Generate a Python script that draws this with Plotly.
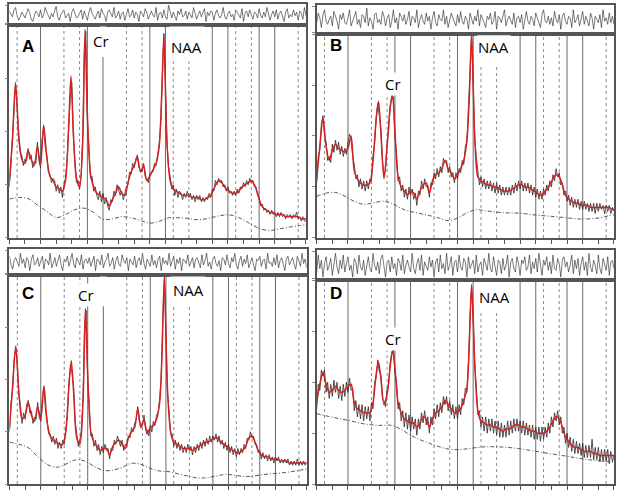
import numpy as np
import plotly.graph_objects as go

# chemical shift (ppm) of the fitted-curve points, shared by all four spectra
fit_ppm = [4.00, 3.96, 3.92, 3.88, 3.84, 3.80, 3.76, 3.72, 3.68, 3.64,
           3.60, 3.56, 3.52, 3.48, 3.44, 3.40, 3.36, 3.32, 3.28, 3.24,
           3.21, 3.18, 3.14, 3.10, 3.06, 3.03, 3.00, 2.96, 2.92, 2.88,
           2.84, 2.80, 2.76, 2.72, 2.68, 2.64, 2.60, 2.56, 2.52, 2.48,
           2.44, 2.40, 2.36, 2.32, 2.28, 2.24, 2.20, 2.16, 2.12, 2.08,
           2.05, 2.02, 1.98, 1.94, 1.90, 1.86, 1.82, 1.78, 1.74, 1.70,
           1.66, 1.62, 1.58, 1.54, 1.50, 1.46, 1.42, 1.38, 1.34, 1.30,
           1.26, 1.22, 1.18, 1.14, 1.10, 1.06, 1.02, 0.98, 0.94, 0.90,
           0.86, 0.82, 0.78, 0.74, 0.70, 0.66, 0.62, 0.58, 0.54, 0.50,
           0.46, 0.42, 0.38, 0.34, 0.30, 0.26, 0.22, 0.20]

# fitted spectra (red)
fit_a = [27, 46, 73, 49, 37, 35, 41, 37, 34, 43,
         34, 53, 38, 29, 27, 24, 23, 22, 27, 52,
         76, 50, 28, 24, 45, 98, 58, 30, 24, 21,
         20, 19, 18, 15, 18, 21, 24, 21, 20, 26,
         31, 34, 38, 31, 34, 27, 29, 32, 35, 43,
         65, 95, 44, 27, 23, 22, 21, 20, 20, 20,
         19, 19, 19, 18, 18, 19, 20, 23, 26, 27,
         25, 23, 22, 21, 21, 22, 24, 25, 26, 27,
         25, 21, 16, 14, 13, 12, 12, 11, 11, 11,
         10, 10, 10, 10, 10, 9, 9, 9]
fit_b = [29, 45, 59, 45, 38, 43, 46, 44, 43, 42,
         44, 50, 33, 29, 27, 26, 26, 27, 38, 58,
         67, 52, 29, 45, 64, 70, 52, 30, 25, 23,
         21, 23, 22, 19, 23, 26, 27, 22, 28, 31,
         32, 34, 38, 34, 32, 29, 31, 34, 38, 48,
         68, 100, 50, 30, 28, 27, 26, 26, 25, 25,
         24, 23, 23, 23, 24, 25, 26, 26, 25, 25,
         24, 23, 22, 21, 22, 24, 26, 29, 31, 30,
         26, 21, 19, 18, 17, 17, 16, 16, 16, 15,
         15, 15, 15, 15, 15, 15, 14, 14]
fit_c = [27, 47, 66, 44, 31, 33, 39, 33, 30, 37,
         31, 47, 30, 23, 21, 20, 19, 19, 25, 47,
         59, 44, 22, 19, 39, 84, 52, 25, 20, 18,
         16, 17, 17, 14, 18, 20, 21, 19, 17, 22,
         25, 27, 36, 27, 31, 24, 27, 28, 31, 39,
         62, 99, 45, 25, 20, 19, 18, 17, 17, 17,
         16, 17, 18, 19, 20, 20, 21, 22, 22, 20,
         19, 18, 17, 16, 15, 15, 16, 18, 22, 23,
         20, 16, 14, 13, 13, 12, 12, 12, 11, 11,
         11, 10, 10, 10, 10, 10, 10, 10]
fit_d = [40, 49, 55, 49, 45, 46, 48, 46, 45, 46,
         48, 49, 40, 37, 36, 35, 35, 35, 40, 54,
         60, 52, 39, 44, 58, 66, 57, 40, 35, 32,
         31, 30, 30, 28, 30, 33, 32, 28, 32, 35,
         36, 38, 41, 39, 37, 35, 35, 37, 41, 47,
         68, 98, 60, 36, 31, 30, 29, 29, 28, 28,
         27, 26, 27, 27, 28, 29, 29, 28, 28, 27,
         26, 26, 25, 25, 25, 26, 28, 31, 33, 32,
         28, 23, 21, 19, 18, 18, 17, 16, 16, 16,
         15, 15, 14, 14, 14, 14, 14, 14]

# measured spectra (black), 4.00 -> 0.20 ppm in 0.02 ppm steps
data_a = [24, 33, 47, 60, 72, 62, 46, 40, 39, 34,
          37, 36, 42, 37, 39, 33, 36, 35, 45, 36,
          33, 46, 52, 43, 39, 31, 30, 26, 28, 27,
          22, 25, 21, 24, 19, 25, 28, 36, 53, 66,
          73, 48, 36, 26, 27, 23, 29, 47, 86, 97,
          56, 43, 28, 29, 22, 24, 20, 18, 22, 17,
          21, 16, 19, 15, 13, 18, 17, 22, 20, 25,
          23, 20, 22, 18, 21, 24, 25, 31, 30, 35,
          33, 37, 39, 33, 32, 31, 35, 29, 28, 26,
          30, 31, 31, 35, 34, 39, 44, 54, 78, 96,
          72, 45, 33, 29, 23, 25, 20, 23, 19, 22,
          21, 18, 21, 19, 22, 19, 21, 18, 20, 17,
          20, 18, 20, 17, 19, 17, 19, 18, 21, 19,
          23, 22, 27, 25, 28, 26, 27, 24, 25, 22,
          24, 21, 22, 20, 22, 20, 23, 21, 24, 23,
          26, 24, 27, 25, 28, 26, 27, 24, 24, 20,
          19, 15, 16, 13, 14, 12, 13, 11, 13, 11,
          12, 10, 12, 10, 12, 10, 11, 9, 11, 10,
          11, 9, 11, 10, 12, 9, 10, 8, 10, 8,
          8]
data_b = [27, 40, 43, 56, 60, 50, 47, 38, 40, 37,
          46, 42, 48, 43, 47, 41, 45, 40, 44, 41,
          47, 51, 48, 40, 36, 29, 31, 25, 29, 24,
          28, 23, 28, 24, 29, 28, 40, 46, 59, 66,
          60, 54, 38, 31, 33, 47, 53, 65, 70, 69,
          50, 42, 28, 30, 23, 26, 20, 24, 19, 25,
          21, 24, 19, 22, 16, 23, 21, 28, 24, 29,
          25, 26, 20, 27, 26, 32, 29, 34, 30, 35,
          32, 39, 37, 38, 32, 35, 30, 32, 27, 32,
          29, 34, 32, 38, 36, 45, 47, 62, 84, 99,
          76, 48, 40, 32, 26, 30, 25, 29, 24, 28,
          24, 28, 23, 27, 22, 27, 22, 26, 21, 25,
          21, 25, 21, 25, 21, 26, 22, 27, 23, 28,
          24, 28, 23, 27, 23, 27, 22, 26, 21, 25,
          20, 24, 19, 23, 19, 24, 21, 26, 23, 28,
          25, 31, 28, 34, 30, 32, 26, 27, 21, 23,
          18, 21, 16, 20, 15, 19, 15, 19, 14, 18,
          14, 18, 14, 17, 13, 17, 13, 17, 12, 17,
          13, 17, 14, 16, 12, 16, 13, 16, 12, 15,
          13]
data_c = [25, 39, 45, 60, 65, 57, 42, 38, 29, 34,
          31, 38, 40, 34, 35, 29, 32, 31, 39, 32,
          30, 41, 46, 36, 31, 24, 24, 20, 23, 19,
          22, 17, 20, 17, 21, 19, 26, 33, 48, 57,
          53, 46, 30, 24, 18, 21, 26, 41, 74, 83,
          50, 38, 23, 24, 18, 21, 16, 19, 14, 18,
          15, 19, 16, 17, 12, 17, 16, 21, 19, 23,
          20, 18, 21, 16, 19, 18, 23, 22, 27, 25,
          29, 31, 37, 30, 29, 28, 33, 26, 26, 23,
          28, 25, 30, 28, 33, 34, 41, 51, 79, 98,
          72, 44, 35, 24, 24, 18, 21, 17, 20, 16,
          19, 15, 18, 15, 19, 16, 18, 14, 18, 15,
          19, 16, 20, 17, 21, 18, 22, 19, 23, 20,
          23, 21, 24, 20, 23, 19, 21, 17, 20, 16,
          19, 15, 18, 14, 17, 13, 17, 14, 17, 15,
          19, 17, 22, 21, 25, 22, 23, 19, 19, 15,
          16, 12, 15, 12, 14, 11, 14, 11, 13, 10,
          13, 11, 13, 10, 12, 10, 12, 10, 12, 9,
          11, 9, 11, 9, 12, 9, 11, 9, 11, 9,
          10]
data_d = [37, 49, 46, 56, 53, 56, 45, 50, 42, 49,
          43, 51, 45, 50, 42, 48, 41, 49, 43, 50,
          45, 52, 46, 47, 36, 41, 33, 39, 32, 39,
          31, 38, 32, 38, 31, 40, 37, 50, 52, 61,
          55, 54, 42, 41, 38, 47, 49, 60, 64, 67,
          55, 51, 37, 40, 31, 36, 28, 35, 27, 34,
          26, 33, 27, 32, 24, 32, 27, 35, 30, 36,
          29, 33, 25, 33, 29, 37, 32, 39, 33, 40,
          35, 43, 39, 43, 36, 41, 34, 39, 32, 38,
          32, 39, 34, 42, 39, 47, 45, 60, 83, 97,
          82, 58, 48, 34, 36, 28, 33, 26, 33, 25,
          32, 26, 32, 25, 31, 24, 31, 23, 30, 23,
          29, 23, 31, 24, 31, 25, 32, 26, 32, 26,
          31, 25, 31, 24, 30, 24, 29, 23, 29, 22,
          28, 22, 28, 21, 28, 22, 28, 23, 30, 25,
          33, 28, 35, 31, 36, 29, 33, 25, 28, 20,
          25, 18, 23, 16, 22, 15, 21, 15, 20, 14,
          20, 13, 19, 13, 19, 13, 22, 12, 18, 12,
          18, 11, 17, 11, 17, 11, 17, 10, 16, 11,
          14]

# fit residuals (top strips), same ppm grid as the measured spectra
res_a = [3, 1, -2, 4, 6, -1, -5, -2, 2, 0,
         -3, 1, 5, 2, -4, -6, -1, 3, 1, -2,
         4, -3, 0, 6, 2, -1, -4, 1, -2, 3,
         7, -2, -5, 0, 2, 4, -3, -1, 1, -6,
         2, 5, 0, -3, -2, 1, 4, -4, 3, -1,
         -5, 2, 6, 1, -2, -4, 0, 3, -3, 5,
         1, -1, -6, 2, 4, 0, -2, 6, -3, -1,
         3, -4, 1, 2, -5, 0, 5, -2, -1, 4,
         -3, 2, 0, -6, 3, 1, -2, 5, 2, -4,
         0, 3, -1, -2, 6, -5, 1, 2, -3, 4,
         -2, -4, 8, 1, -3, 2, -1, -5, 3, 0,
         5, -2, -1, 3, -4, 2, 0, -3, 6, 1,
         -4, 0, 3, -2, 1, 5, -6, 2, -1, 3,
         2, -5, 1, 4, -1, -3, 0, 6, -2, -4,
         1, 3, -2, 0, -5, 4, 2, -1, -3, 5,
         -6, 1, 3, -2, 4, 0, -4, 2, 1, -3,
         5, -1, -3, 2, -2, 6, 1, -5, 0, 3,
         -2, 4, -4, 1, 3, -1, -6, 2, 5, -3,
         0, -2, 4, -1, 2, -5, 3, 1, -4, 6,
         -1]
res_b = [-2, 4, 1, -5, 3, 6, -1, -3, 0, 2,
         -4, 5, 2, -1, -6, 3, 0, 4, -2, -3,
         1, 6, -4, -1, 2, 5, -3, 0, -5, 3,
         2, -2, 7, -4, 1, -1, -6, 3, 4, -2,
         0, -3, 5, 2, -4, 1, 3, -5, -1, 6,
         -2, 1, -6, 4, 2, -1, 3, -3, 0, 5,
         -4, 2, 1, -2, 6, -5, 0, 3, -1, -3,
         4, -1, 2, -6, 1, 5, -2, -4, 3, 0,
         -1, 6, -3, 2, -5, 0, 4, 1, -2, -4,
         3, -2, 5, -1, -3, 2, 0, -6, 4, 1,
         -3, 2, -1, 6, -4, 3, 1, -2, -5, 2,
         0, 4, -3, -1, 5, -6, 2, 1, -2, 3,
         6, -4, 0, 2, -1, -3, 4, -5, 1, 2,
         -2, 3, -6, 1, 5, -1, -3, 2, 0, -4,
         4, 1, -2, -5, 3, 6, -1, -2, 2, -3,
         1, -4, 5, 0, -2, 3, -6, 2, 4, -1,
         -3, 2, 1, -5, 6, -2, 0, 3, -4, 1,
         5, -3, 2, -1, -4, 4, 1, -6, 2, 0,
         -2, 3, -5, 6, -1, 1, -3, 4, -2, 2,
         -3]
res_c = [4, -2, -5, 1, 3, 0, -3, 6, -1, 2,
         -4, 3, 1, -6, 2, 5, -2, -1, 3, -3,
         0, 4, -5, 2, 1, -2, 6, -4, -1, 3,
         -3, 1, 5, -2, -6, 2, 0, 4, -3, 1,
         6, -1, -4, 3, 0, -2, 5, -5, 1, 2,
         -1, 3, -3, 0, 4, -6, 2, 1, -2, 5,
         -4, 0, 2, 6, -3, -1, 3, -5, 1, 4,
         -2, -3, 5, 1, -1, 3, -6, 2, 0, -2,
         4, -4, 1, 3, -2, 6, -1, -5, 2, 0,
         -3, 5, -2, 1, -4, 2, 4, -6, 3, -1,
         1, -2, 6, -3, 0, 4, -5, 2, -1, 3,
         -6, 2, 1, -1, 5, -3, 0, 3, -4, 2,
         3, -1, -4, 5, -2, 1, 6, -3, 0, -5,
         2, 4, -1, -3, 1, -6, 3, 2, -2, 5,
         -1, -4, 3, 0, 6, -2, -5, 1, 4, -3,
         2, -1, 5, -4, 0, 3, -2, -6, 2, 1,
         4, -3, 1, 2, -5, 6, -1, 0, -3, 3,
         -2, 5, -4, 1, 3, -1, -6, 2, 4, -2,
         0, 3, -2, -5, 4, 1, -3, 6, -1, 2,
         -4]
res_d = [-4, 6, -2, 3, -7, 1, 5, -3, 0, 4,
         -6, 2, 7, -1, -5, 3, -2, 6, -4, 1,
         5, -3, 0, -7, 4, 2, -5, 6, -1, -3,
         3, -6, 1, 5, -2, -4, 7, 0, -3, 2,
         -5, 4, 6, -1, -7, 2, 3, -4, 5, -2,
         1, -6, 4, 2, -3, 6, -5, 0, 3, -1,
         -4, 7, -2, -5, 1, 4, -3, 6, -6, 2,
         0, -3, 5, -1, 3, -7, 2, 4, -4, 6,
         -2, 1, -5, 7, -3, 0, 5, -6, 2, 3,
         -4, 6, -1, -3, 4, 2, -7, 5, -2, 1,
         3, -5, 6, -4, 0, 2, -6, 4, 1, -3,
         7, -2, -4, 5, -1, -6, 3, 2, -5, 4,
         -3, 0, 6, -7, 2, 4, -2, -4, 5, 1,
         -6, 3, 1, 5, -3, -1, 6, -5, 2, -2,
         4, -4, 7, -1, -6, 3, 0, 5, -3, 2,
         -5, 6, -2, -3, 4, 1, -7, 3, 5, -1,
         2, -4, 0, 6, -5, 3, -2, 4, -6, 1,
         5, -3, 2, -6, 7, -1, -4, 3, 0, -5,
         6, -2, -5, 4, 1, -3, 5, -6, 2, 3,
         -2]

# estimated baselines (dash-dot)
base_ppm = [4.00, 3.88, 3.76, 3.64, 3.52, 3.40, 3.28, 3.16, 3.04, 2.92, 2.80,
            2.68, 2.56, 2.44, 2.32, 2.20, 2.08, 1.96, 1.84, 1.72, 1.60, 1.48,
            1.36, 1.24, 1.12, 1.00, 0.88, 0.76, 0.64, 0.52, 0.40, 0.28, 0.20]
base_a = [18.3, 19.0, 18.5, 15.5, 12.5, 9.6, 11.0, 13.3, 14.0, 12.0, 8.8,
          9.0, 10.0, 9.5, 8.2, 7.0, 7.8, 9.5, 9.5, 9.2, 8.6, 9.0,
          10.0, 10.8, 10.5, 8.5, 6.0, 4.0, 3.6, 4.4, 5.2, 5.8, 6.3]
base_b = [20.4, 22.0, 22.3, 20.5, 18.0, 16.5, 17.2, 18.0, 17.0, 14.5, 13.0,
          12.0, 11.0, 9.8, 8.5, 9.8, 12.3, 13.9, 13.3, 12.8, 12.3, 12.3,
          12.0, 11.4, 11.0, 10.6, 10.2, 9.7, 9.3, 9.4, 9.8, 10.8, 11.4]
base_c = [20.0, 19.0, 17.4, 13.1, 9.4, 8.0, 9.5, 11.5, 11.0, 8.5, 6.5,
          6.6, 8.0, 9.9, 9.4, 7.5, 6.2, 5.9, 4.8, 3.8, 2.9, 3.0,
          3.8, 4.6, 4.2, 3.6, 3.8, 4.5, 4.9, 5.3, 5.9, 6.6, 7.2]
base_d = [34.5, 33.5, 32.5, 31.6, 30.6, 29.6, 29.0, 28.8, 28.8, 26.8, 24.0,
          21.8, 20.0, 18.4, 17.2, 16.9, 17.3, 17.9, 18.3, 18.3, 18.1, 17.7,
          17.1, 16.3, 15.6, 14.8, 14.1, 13.4, 12.6, 11.9, 11.5, 11.0, 10.7]

# reference lines (ppm)
solid_ppm = [3.6, 3.0, 2.8, 2.2, 2.0, 1.4, 1.2, 0.8, 0.6]
dotted_ppm = [3.9, 3.3, 3.1, 2.5, 2.3, 1.9, 1.7, 1.1, 0.9, 0.3]

panel_letters = ["A", "B", "C", "D"]

panels = [
    dict(fit=fit_a, data=data_a, res=res_a, base=base_a,
         xdom=[0.015, 0.4935], main=[0.5143, 0.949], strip=[0.949, 0.9918],
         letter=(3.76, 90.0), cr=(2.82, 92.5), naa=(1.73, 89.5),
         masks=[(2.84, 2.76, 85), (1.95, 1.50, 83)]),
    dict(fit=fit_b, data=data_b, res=res_b, base=base_b,
         xdom=[0.5108, 0.9903], main=[0.5143, 0.9306], strip=[0.9306, 0.9898],
         letter=(3.75, 94.6), cr=(3.02, 75.6), naa=(1.74, 93.8),
         masks=[(1.94, 1.52, 85)]),
    dict(fit=fit_c, data=data_c, res=res_c, base=base_c,
         xdom=[0.0153, 0.4947], main=[0.0122, 0.4388], strip=[0.4388, 0.4918],
         letter=(3.76, 91.0), cr=(3.02, 90.4), naa=(1.71, 92.8),
         masks=[(2.84, 2.76, 85), (1.94, 1.50, 85)]),
    dict(fit=fit_d, data=data_d, res=res_d, base=base_d,
         xdom=[0.5108, 0.9903], main=[0.0122, 0.4276], strip=[0.4276, 0.4898],
         letter=(3.75, 93.4), cr=(3.03, 71.4), naa=(1.73, 92.0),
         masks=[(1.94, 1.52, 85)]),
]


def suffix(n):
    return "" if n == 1 else str(n)


fig = go.Figure()
shapes = []
annotations = []
layout = {}

for i, p in enumerate(panels):
    m = suffix(2 * i + 1)
    r = suffix(2 * i + 2)
    data_ppm = np.linspace(4.0, 0.2, len(p["data"]))
    res_ppm = np.linspace(4.0, 0.2, len(p["res"]))

    fig.add_trace(go.Scatter(x=base_ppm, y=p["base"], mode="lines",
                             line=dict(color="#444", width=0.9, dash="4px,2px,1px,2px",
                                       shape="spline"),
                             xaxis="x" + m, yaxis="y" + m))
    fig.add_trace(go.Scatter(x=data_ppm, y=p["data"], mode="lines",
                             line=dict(color="#2a2a2a", width=0.8),
                             xaxis="x" + m, yaxis="y" + m))
    fig.add_trace(go.Scatter(x=fit_ppm, y=p["fit"], mode="lines",
                             line=dict(color="#d42020", width=1.5, shape="spline", smoothing=0.8),
                             xaxis="x" + m, yaxis="y" + m))
    fig.add_trace(go.Scatter(x=res_ppm, y=p["res"], mode="lines",
                             line=dict(color="#222", width=0.6),
                             xaxis="x" + r, yaxis="y" + r))

    frame = dict(showline=True, mirror=True, linecolor="#555", linewidth=1.5,
                 showgrid=False, zeroline=False)
    layout["xaxis" + m] = dict(frame, domain=p["xdom"], range=[4.0, 0.2], anchor="y" + m,
                               ticks="outside", ticklen=4, tickcolor="#555",
                               tick0=0.2, dtick=0.2, showticklabels=False)
    layout["yaxis" + m] = dict(frame, domain=p["main"], range=[0, 100], anchor="x" + m,
                               ticks="outside", ticklen=3, tickcolor="#888",
                               dtick=25, showticklabels=False)
    layout["xaxis" + r] = dict(frame, domain=p["xdom"], range=[4.0, 0.2], anchor="y" + r,
                               showticklabels=False, ticks="")
    layout["yaxis" + r] = dict(frame, domain=p["strip"], range=[-9, 9], anchor="x" + r,
                               ticks="outside", ticklen=3, tickcolor="#888",
                               tickvals=[-8, 8], showticklabels=False)

    for ppm in solid_ppm:
        shapes.append(dict(type="line", xref="x" + m, yref="y" + m + " domain",
                           x0=ppm, x1=ppm, y0=0, y1=1, layer="below",
                           line=dict(color="#6a6a6a", width=1)))
    for ppm in dotted_ppm:
        shapes.append(dict(type="line", xref="x" + m, yref="y" + m + " domain",
                           x0=ppm, x1=ppm, y0=0, y1=1, layer="below",
                           line=dict(color="#8a8a8a", width=1, dash="dot")))
    # white boxes behind the labels hide the tops of some reference lines
    for x0, x1, y0 in p["masks"]:
        shapes.append(dict(type="rect", xref="x" + m, yref="y" + m,
                           x0=x0, x1=x1, y0=y0, y1=99.3, layer="above",
                           fillcolor="white", line=dict(width=0)))

    annotations.append(dict(x=p["letter"][0], y=p["letter"][1], xref="x" + m, yref="y" + m,
                            text="<b>%s</b>" % panel_letters[i], showarrow=False,
                            font=dict(family="Arial", size=17, color="black")))
    annotations.append(dict(x=p["cr"][0], y=p["cr"][1], xref="x" + m, yref="y" + m,
                            text="Cr", showarrow=False, bgcolor="white", borderpad=1,
                            font=dict(family="Open Sans", size=15, color="black")))
    annotations.append(dict(x=p["naa"][0], y=p["naa"][1], xref="x" + m, yref="y" + m,
                            text="NAA", showarrow=False, bgcolor="white", borderpad=1,
                            font=dict(family="Open Sans", size=15, color="black")))

fig.update_layout(
    width=620,
    height=490,
    margin=dict(l=0, r=0, t=0, b=0),
    paper_bgcolor="white",
    plot_bgcolor="white",
    showlegend=False,
    shapes=shapes,
    annotations=annotations,
    **layout
)

fig.write_html("out.html", config={"displayModeBar": False},
               post_script="document.body.style.margin='0px';")
